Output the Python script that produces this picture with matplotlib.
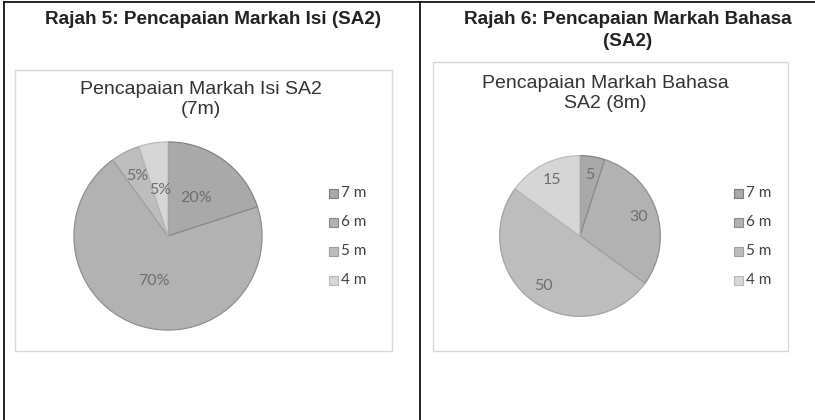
import numpy as np
import matplotlib
matplotlib.use("Agg")
import matplotlib.pyplot as plt
from matplotlib.patches import Rectangle
from matplotlib.lines import Line2D

W, H = 815, 420

categories = ["7 m", "6 m", "5 m", "4 m"]
isi_values = [20, 70, 5, 5]
isi_labels = ["20%", "70%", "5%", "5%"]
bahasa_values = [5, 30, 50, 15]
bahasa_labels = ["5", "30", "50", "15"]

heading_left = "Rajah 5: Pencapaian Markah Isi (SA2)"
heading_right = "Rajah 6: Pencapaian Markah Bahasa\n(SA2)"
title_left = "Pencapaian Markah Isi SA2\n(7m)"
title_right = "Pencapaian Markah Bahasa\nSA2 (8m)"

colors = ["#a9a9a9", "#b2b2b2", "#bdbdbd", "#d6d6d6"]
edge_colors = ["#7c7c7c", "#8a8a8a", "#a0a0a0", "#b8b8b8"]

fig = plt.figure(figsize=(W / 100, H / 100), dpi=100)
bg = fig.add_axes([0, 0, 1, 1])
bg.set_xlim(0, W)
bg.set_ylim(H, 0)
bg.axis("off")

# table lines
bg.add_line(Line2D([4, W], [2, 2], color="black", lw=1.2))
bg.add_line(Line2D([4, 4], [2, H], color="black", lw=1.2))
bg.add_line(Line2D([420, 420], [2, H], color="black", lw=1.2))

# chart boxes
bg.add_patch(Rectangle((15, 70), 377, 281, fill=False, ec="#d9d9d9", lw=1))
bg.add_patch(Rectangle((433, 62), 355, 289, fill=False, ec="#d9d9d9", lw=1))

hfont = dict(family="Liberation Sans", fontweight="bold", fontsize=13.6, color="#222222")
bg.text(213, 20, heading_left, ha="center", va="center", **hfont)
bg.text(628, 20, heading_right.split("\n")[0], ha="center", va="center", **hfont)
bg.text(628, 41, heading_right.split("\n")[1], ha="center", va="center", **hfont)

tfont = dict(family="Liberation Sans", fontsize=14, color="#333333")
tl = title_left.split("\n")
tr = title_right.split("\n")
bg.text(201, 89, tl[0], ha="center", va="center", **tfont)
bg.text(201, 110, tl[1], ha="center", va="center", **tfont)
bg.text(605, 83, tr[0], ha="center", va="center", **tfont)
bg.text(605, 103, tr[1], ha="center", va="center", **tfont)


def draw_pie(cx, cy, r, values, labels, dists, legend_x):
    ax = fig.add_axes([(cx - r) / W, 1 - (cy + r) / H, 2 * r / W, 2 * r / H])
    wedges, _ = ax.pie(values, colors=colors, startangle=90, counterclock=False,
                       radius=1, wedgeprops=dict(linewidth=0.8))
    for w, ec in zip(wedges, edge_colors):
        w.set_edgecolor(ec)
    for w, lab, d in zip(wedges, labels, dists):
        ang = np.deg2rad((w.theta1 + w.theta2) / 2)
        ax.text(d * np.cos(ang), d * np.sin(ang), lab, ha="center", va="center",
                fontsize=11.5, color="#6e6e6e", family="Lato")
    ax.set_xlim(-1.02, 1.02)
    ax.set_ylim(-1.02, 1.02)
    ax.set_aspect("equal")
    ax.axis("off")
    ys = [193, 222, 251, 280]
    for cat, col, ec, y in zip(categories, colors, edge_colors, ys):
        bg.add_patch(Rectangle((legend_x, y - 4.5), 9, 9, fc=col, ec=ec, lw=0.8))
        bg.text(legend_x + 12, y, cat, ha="left", va="center", fontsize=11,
                color="#404040", family="Lato")


draw_pie(168, 236, 96, isi_values, isi_labels, [0.5, 0.5, 0.71, 0.5], 329)
draw_pie(580, 236, 82, bahasa_values, bahasa_labels, [0.77, 0.76, 0.77, 0.78], 734)

fig.savefig("out.png", dpi=100, facecolor="white")
